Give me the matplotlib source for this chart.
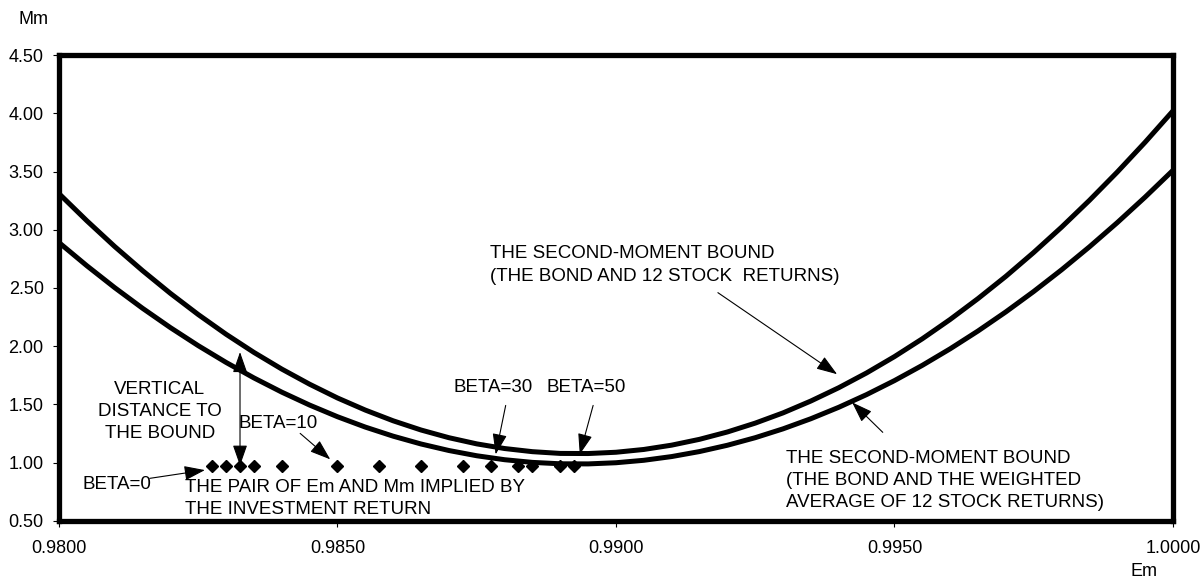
import matplotlib
matplotlib.use("Agg")
import matplotlib.pyplot as plt
from matplotlib.ticker import FormatStrFormatter

plt.rcParams['font.family'] = ['Liberation Sans', 'DejaVu Sans']

# Em grid shared by both bounds (step 0.0005)
em_grid = [0.9800, 0.9805, 0.9810, 0.9815, 0.9820, 0.9825, 0.9830, 0.9835, 0.9840, 0.9845,
           0.9850, 0.9855, 0.9860, 0.9865, 0.9870, 0.9875, 0.9880, 0.9885, 0.9890, 0.9895,
           0.9900, 0.9905, 0.9910, 0.9915, 0.9920, 0.9925, 0.9930, 0.9935, 0.9940, 0.9945,
           0.9950, 0.9955, 0.9960, 0.9965, 0.9970, 0.9975, 0.9980, 0.9985, 0.9990, 0.9995,
           1.0000]

# second-moment bound, bond + 12 stock returns
mm_bound_12 = [3.310, 3.077, 2.856, 2.649, 2.454, 2.272, 2.103, 1.947, 1.804, 1.674,
               1.556, 1.452, 1.360, 1.281, 1.215, 1.162, 1.122, 1.095, 1.080, 1.079,
               1.090, 1.114, 1.151, 1.201, 1.264, 1.340, 1.428, 1.530, 1.644, 1.771,
               1.911, 2.064, 2.230, 2.409, 2.600, 2.805, 3.022, 3.252, 3.495, 3.751,
               4.020]

# second-moment bound, bond + weighted average of 12 stock returns
mm_bound_avg = [2.890, 2.691, 2.503, 2.326, 2.160, 2.005, 1.861, 1.728, 1.606, 1.495,
                1.395, 1.306, 1.228, 1.161, 1.105, 1.060, 1.026, 1.003, 0.991, 0.990,
                1.000, 1.021, 1.053, 1.096, 1.150, 1.215, 1.291, 1.378, 1.476, 1.585,
                1.705, 1.836, 1.978, 2.131, 2.295, 2.470, 2.656, 2.853, 3.061, 3.280,
                3.510]

# (Em, Mm) pairs implied by the investment return for increasing beta
pair_em = [0.98275, 0.98300, 0.98325, 0.98350, 0.98400, 0.98500, 0.98575, 0.98650,
           0.98725, 0.98775, 0.98825, 0.98850, 0.98900, 0.98925]
pair_mm = [0.972, 0.972, 0.972, 0.972, 0.971, 0.971, 0.970, 0.970,
           0.970, 0.969, 0.969, 0.968, 0.968, 0.968]

x_ticks = [0.980, 0.985, 0.990, 0.995, 1.000]
y_ticks = [0.5, 1.0, 1.5, 2.0, 2.5, 3.0, 3.5, 4.0, 4.5]

fig = plt.figure(figsize=(12.04, 5.84), dpi=100)
ax = fig.add_axes([0.0490, 0.1079, 0.9252, 0.7979])

ax.plot(em_grid, mm_bound_12, color='black', lw=3.6, solid_capstyle='butt', zorder=2)
ax.plot(em_grid, mm_bound_avg, color='black', lw=3.6, solid_capstyle='butt', zorder=2)
ax.plot(pair_em, pair_mm, linestyle='none', marker='D', ms=6.5, color='black', zorder=3)

ax.set_xlim(0.98, 1.0)
ax.set_ylim(0.5, 4.5)
ax.set_xticks(x_ticks)
ax.set_yticks(y_ticks)
ax.xaxis.set_major_formatter(FormatStrFormatter('%.4f'))
ax.yaxis.set_major_formatter(FormatStrFormatter('%.2f'))
ax.tick_params(axis='both', direction='out', length=4, width=0.8, labelsize=13)
ax.tick_params(axis='x', pad=10)
ax.tick_params(axis='y', pad=7)
for s in ax.spines.values():
    s.set_linewidth(3.8)
    s.set_zorder(4)

fig.text(33 / 1204, 1 - 19 / 584, 'Mm', fontsize=13, ha='center', va='center')
fig.text(1144 / 1204, 1 - 572 / 584, 'Em', fontsize=13, ha='center', va='center')

fs = 13.5
ls = 1.4
ax.text(0.98181, 1.441, 'VERTICAL\nDISTANCE TO\nTHE BOUND', fontsize=fs,
        ha='center', va='center', multialignment='center', linespacing=ls)
ax.text(0.98043, 0.815, 'BETA=0', fontsize=fs, ha='left', va='center')
ax.text(0.98226, 0.690, 'THE PAIR OF Em AND Mm IMPLIED BY\nTHE INVESTMENT RETURN',
        fontsize=fs, ha='left', va='center', linespacing=ls)
ax.text(0.98323, 1.338, 'BETA=10', fontsize=fs, ha='left', va='center')
ax.text(0.98709, 1.647, 'BETA=30', fontsize=fs, ha='left', va='center')
ax.text(0.98876, 1.647, 'BETA=50', fontsize=fs, ha='left', va='center')
ax.text(0.98774, 2.697, 'THE SECOND-MOMENT BOUND\n(THE BOND AND 12 STOCK  RETURNS)',
        fontsize=fs, ha='left', va='center', linespacing=ls)
ax.text(0.99305, 0.849,
        'THE SECOND-MOMENT BOUND\n(THE BOND AND THE WEIGHTED\nAVERAGE OF 12 STOCK RETURNS)',
        fontsize=fs, ha='left', va='center', linespacing=ls)

arrow = dict(arrowstyle='-|>,head_length=0.8,head_width=0.28', color='black',
             lw=0.8, mutation_scale=16, shrinkA=0, shrinkB=0)
ax.annotate('', xy=(0.98262, 0.937), xytext=(0.98163, 0.866), arrowprops=arrow)
ax.annotate('', xy=(0.98487, 1.029), xytext=(0.98433, 1.252), arrowprops=arrow)
ax.annotate('', xy=(0.98784, 1.072), xytext=(0.98802, 1.492), arrowprops=arrow)
ax.annotate('', xy=(0.98935, 1.072), xytext=(0.98959, 1.492), arrowprops=arrow)
ax.annotate('', xy=(0.99397, 1.760), xytext=(0.99183, 2.460), arrowprops=arrow)
ax.annotate('', xy=(0.99424, 1.518), xytext=(0.99479, 1.261), arrowprops=arrow)

# vertical distance from the pair to the bound
both = dict(arrowstyle='<|-|>,head_length=0.8,head_width=0.28', color='black',
            lw=0.8, mutation_scale=16, shrinkA=0, shrinkB=0)
ax.annotate('', xy=(0.98325, 1.95), xytext=(0.98325, 0.975), arrowprops=both)

fig.savefig('out.png', dpi=100)
